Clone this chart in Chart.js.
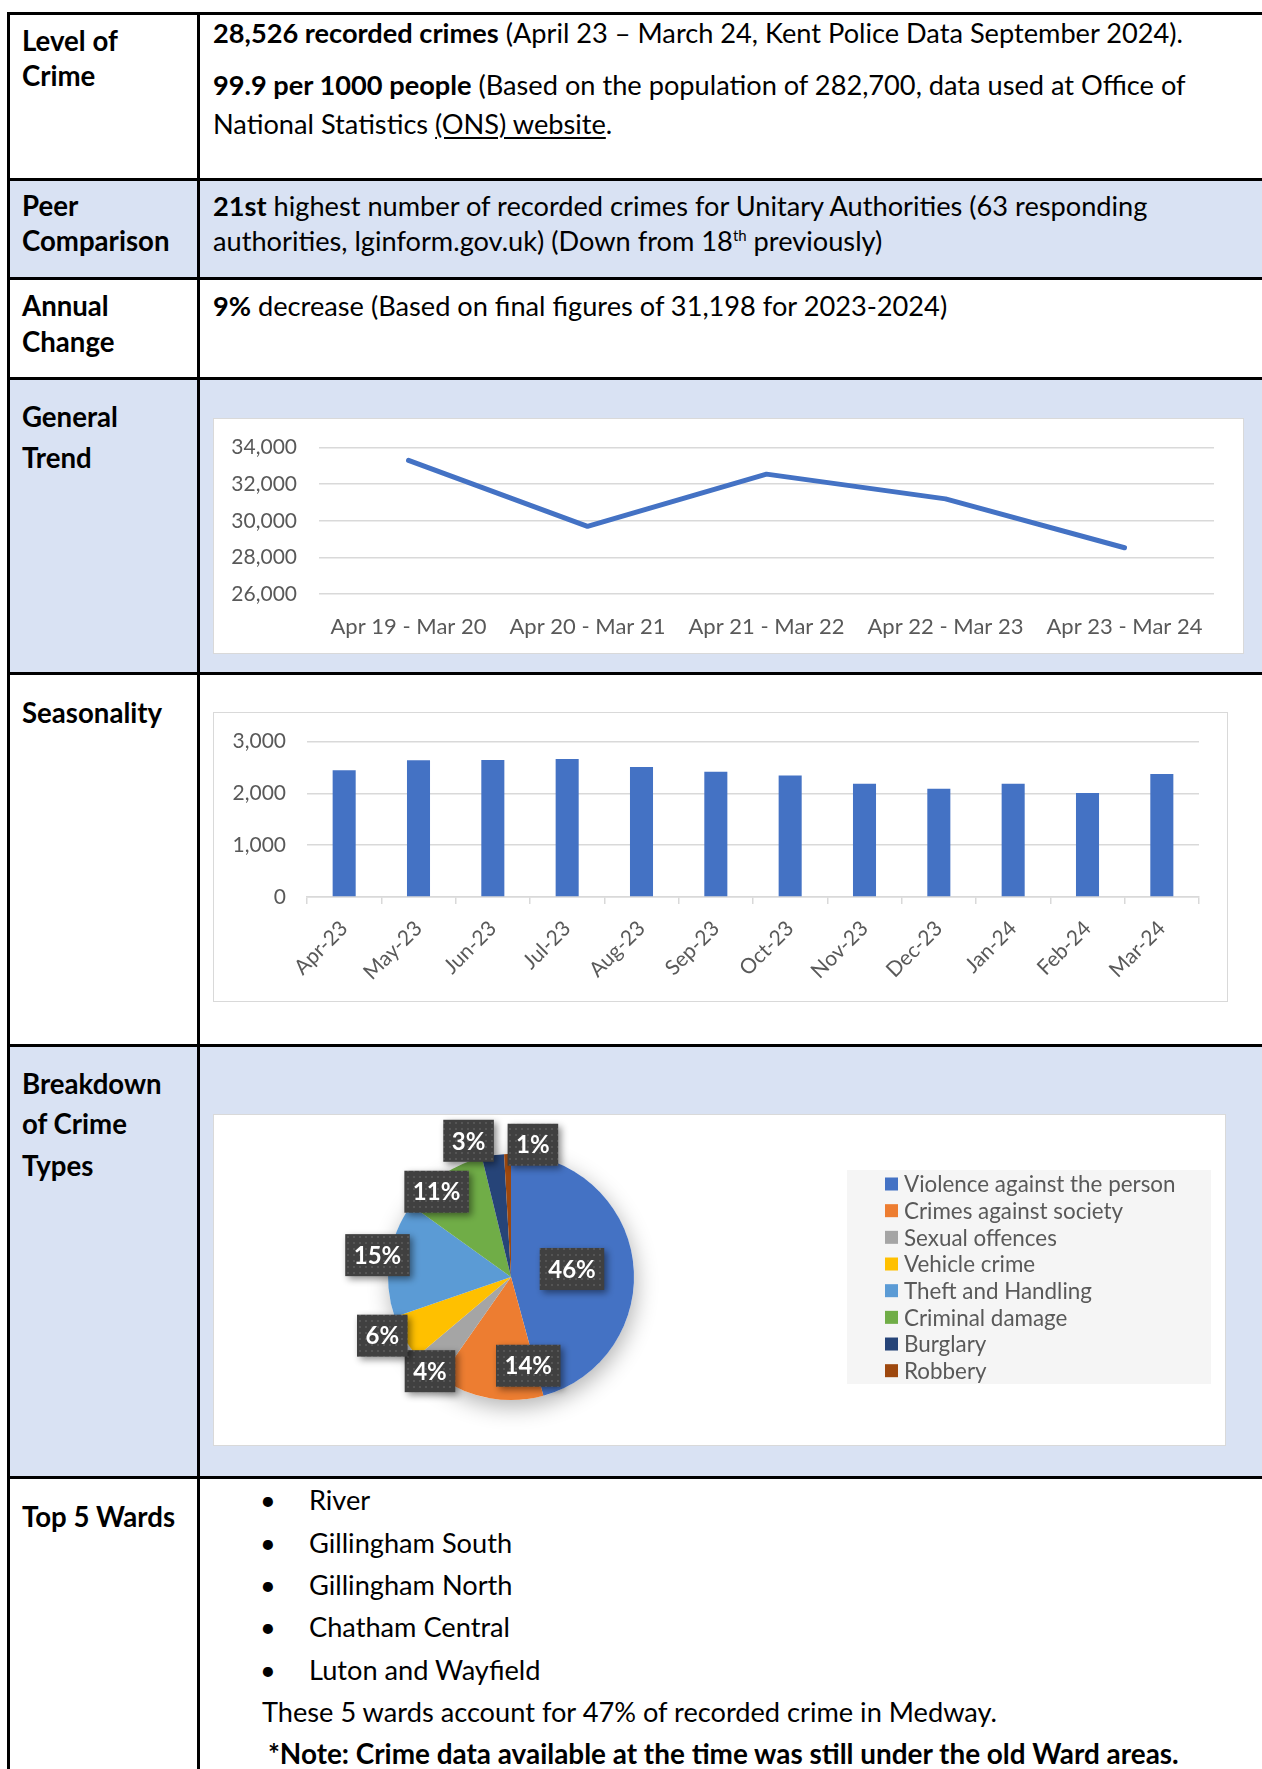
<!DOCTYPE html>
<html>
<head>
<meta charset="utf-8">
<script src="https://cdn.jsdelivr.net/npm/chart.js@4.4.1/dist/chart.umd.min.js"></script>
<style>
  body { margin: 0; width: 1262px; height: 1769px; overflow: hidden; background: #fff; font-family: Lato, 'Open Sans', sans-serif; color: #000; }
  .band { position: absolute; left: 7px; width: 1255px; background: #D9E2F3; }
  .hline { position: absolute; left: 7px; width: 1255px; height: 3px; background: #000; }
  .vline { position: absolute; top: 12px; width: 3px; height: 1757px; background: #000; }
  .t { position: absolute; white-space: nowrap; font-size: 27.2px; line-height: 30px; }
  .lab { position: absolute; left: 22px; white-space: nowrap; font-size: 27.6px; line-height: 30px; font-weight: 700; }
  .box { position: absolute; background: #fff; border: 1.5px solid #D9D9D9; box-sizing: border-box; }
  canvas { position: absolute; }
  u { text-underline-offset: 3px; }
  sup { font-size: 15px; line-height: 0; vertical-align: 10px; }
</style>
</head>
<body>
<div class="band" style="top:178px;height:100px"></div>
<div class="band" style="top:377px;height:296px"></div>
<div class="band" style="top:1044px;height:433px"></div>

<div class="hline" style="top:12px"></div>
<div class="hline" style="top:178px"></div>
<div class="hline" style="top:277px"></div>
<div class="hline" style="top:377px"></div>
<div class="hline" style="top:672px"></div>
<div class="hline" style="top:1044px"></div>
<div class="hline" style="top:1476px"></div>
<div class="vline" style="left:7px"></div>
<div class="vline" style="left:197px"></div>

<div class="lab" style="top:26px">Level of</div>
<div class="lab" style="top:61px">Crime</div>
<div class="lab" style="top:191px">Peer</div>
<div class="lab" style="top:226px">Comparison</div>
<div class="lab" style="top:291px">Annual</div>
<div class="lab" style="top:327px">Change</div>
<div class="lab" style="top:402px">General</div>
<div class="lab" style="top:443px">Trend</div>
<div class="lab" style="top:698px">Seasonality</div>
<div class="lab" style="top:1069px">Breakdown</div>
<div class="lab" style="top:1109px">of Crime</div>
<div class="lab" style="top:1151px">Types</div>
<div class="lab" style="top:1502px">Top 5 Wards</div>

<div class="t" style="left:213px;top:18px"><b>28,526 recorded crimes</b> (April 23 – March 24, Kent Police Data September 2024).</div>
<div class="t" style="left:213px;top:70px"><b>99.9 per 1000 people</b> (Based on the population of 282,700, data used at Office of</div>
<div class="t" style="left:213px;top:109px">National Statistics <u>(ONS) website</u>.</div>
<div class="t" style="left:213px;top:191px"><b>21st</b> highest number of recorded crimes for Unitary Authorities (63 responding</div>
<div class="t" style="left:213px;top:226px">authorities, lginform.gov.uk) (Down from 18<sup>th</sup> previously)</div>
<div class="t" style="left:213px;top:291px"><b>9%</b> decrease (Based on final figures of 31,198 for 2023-2024)</div>

<div class="t" style="left:260px;top:1485px">•</div><div class="t" style="left:309px;top:1485px">River</div>
<div class="t" style="left:260px;top:1528px">•</div><div class="t" style="left:309px;top:1528px">Gillingham South</div>
<div class="t" style="left:260px;top:1570px">•</div><div class="t" style="left:309px;top:1570px">Gillingham North</div>
<div class="t" style="left:260px;top:1612px">•</div><div class="t" style="left:309px;top:1612px">Chatham Central</div>
<div class="t" style="left:260px;top:1655px">•</div><div class="t" style="left:309px;top:1655px">Luton and Wayfield</div>
<div class="t" style="left:262px;top:1697px">These 5 wards account for 47% of recorded crime in Medway.</div>
<div class="t" style="left:268px;top:1738px;font-weight:700;font-size:27.9px">*Note: Crime data available at the time was still under the old Ward areas.</div>

<div class="box" style="left:213px;top:418px;width:1031px;height:236px"></div>
<canvas id="trendChart" width="1031" height="241" style="left:213px;top:413px"></canvas>

<div class="box" style="left:213px;top:712px;width:1015px;height:290px"></div>
<canvas id="monthChart" width="1015" height="294" style="left:213px;top:708px"></canvas>

<div class="box" style="left:213px;top:1114px;width:1013px;height:332px"></div>
<canvas id="typeChart" width="1013" height="332" style="left:213px;top:1114px"></canvas>

<script>
// annual totals (General Trend)
const trendYears = ['Apr 19 - Mar 20', 'Apr 20 - Mar 21', 'Apr 21 - Mar 22', 'Apr 22 - Mar 23', 'Apr 23 - Mar 24'];
const trendCrimes = [33300, 29700, 32550, 31198, 28526];
const trendTicks = [26000, 28000, 30000, 32000, 34000];

// monthly totals (Seasonality)
const months = ['Apr-23', 'May-23', 'Jun-23', 'Jul-23', 'Aug-23', 'Sep-23', 'Oct-23', 'Nov-23', 'Dec-23', 'Jan-24', 'Feb-24', 'Mar-24'];
const monthCrimes = [2445, 2640, 2645, 2665, 2510, 2420, 2345, 2185, 2090, 2185, 2010, 2375];
const monthTicks = [0, 1000, 2000, 3000];

// breakdown of crime types (% share)
const crimeTypes = ['Violence against the person', 'Crimes against society', 'Sexual offences', 'Vehicle crime', 'Theft and Handling', 'Criminal damage', 'Burglary', 'Robbery'];
const crimeShares = [45.8, 14.0, 4.1, 5.9, 15.2, 11.3, 2.9, 0.9];
const crimeColours = ['#4472C4', '#ED7D31', '#A5A5A5', '#FFC000', '#5B9BD5', '#70AD47', '#264478', '#9E480E'];

const GRID = '#D9D9D9';
const TEXT = '#595959';
Chart.defaults.font.family = 'Lato, "Open Sans", sans-serif';
Chart.defaults.color = TEXT;
Chart.defaults.animation = false;

const fmt = v => Number(v).toLocaleString('en-GB');

new Chart(document.getElementById('trendChart'), {
    type: 'line',
    data: {
        labels: trendYears,
        datasets: [{
            data: trendCrimes,
            borderColor: '#4472C4',
            borderWidth: 5,
            borderCapStyle: 'round',
            borderJoinStyle: 'round',
            pointRadius: 0,
            tension: 0,
            fill: false
        }]
    },
    options: {
        responsive: false,
        layout: { padding: { top: 26, right: 30, left: 0, bottom: 0 } },
        plugins: { legend: { display: false }, tooltip: { enabled: false } },
        scales: {
            x: {
                offset: true,
                grid: { display: false, drawTicks: false },
                border: { display: false },
                ticks: { padding: 20, font: { size: 22 } },
                afterFit: s => { s.height = 60; }
            },
            y: {
                min: trendTicks[0],
                max: trendTicks[trendTicks.length - 1],
                afterBuildTicks: s => { s.ticks = trendTicks.map(v => ({ value: v })); },
                grid: { color: GRID, lineWidth: 1.5, drawTicks: false },
                border: { display: false },
                ticks: { padding: 22, font: { size: 21 }, callback: fmt },
                afterFit: s => { s.width = 106; }
            }
        }
    }
});

new Chart(document.getElementById('monthChart'), {
    type: 'bar',
    data: {
        labels: months,
        datasets: [{
            data: monthCrimes,
            backgroundColor: '#4472C4',
            barPercentage: 0.31,
            categoryPercentage: 1
        }]
    },
    options: {
        responsive: false,
        layout: { padding: { top: 26, right: 29, left: 0, bottom: 0 } },
        plugins: { legend: { display: false }, tooltip: { enabled: false } },
        scales: {
            x: {
                grid: { display: true, drawOnChartArea: false, drawTicks: true, tickLength: 7, color: GRID, lineWidth: 1.5, offset: true },
                border: { color: GRID, width: 1.5 },
                ticks: { minRotation: 45, maxRotation: 45, autoSkip: false, padding: 12, font: { size: 21 } },
                afterFit: s => { s.height = 105; }
            },
            y: {
                min: monthTicks[0],
                max: monthTicks[monthTicks.length - 1],
                afterBuildTicks: s => { s.ticks = monthTicks.map(v => ({ value: v })); },
                grid: { color: GRID, lineWidth: 1.5, drawTicks: false },
                border: { display: false },
                ticks: { padding: 21, font: { size: 21 }, callback: fmt },
                afterFit: s => { s.width = 94; }
            }
        }
    }
});

// where Excel's "best fit" put each percentage box: [degrees clockwise from 12 o'clock, fraction of radius]
const labelSpots = [[82.5, 0.5], [169, 0.735], [220.7, 1.01], [245.5, 1.15], [279.3, 1.10], [318.9, 0.92], [342.7, 1.16], [9.4, 1.09]];

function dotPattern(ctx) {
    const c = document.createElement('canvas');
    c.width = 6; c.height = 6;
    const p = c.getContext('2d');
    p.fillStyle = '#404040';
    p.fillRect(0, 0, 6, 6);
    p.fillStyle = '#555555';
    p.fillRect(2, 2, 2, 2);
    return ctx.createPattern(c, 'repeat');
}

const pieShadow = {
    id: 'pieShadow',
    beforeDatasetsDraw(chart) {
        const arc = chart.getDatasetMeta(0).data[0];
        if (!arc) return;
        const ctx = chart.ctx;
        ctx.save();
        ctx.shadowColor = 'rgba(0,0,0,0.3)';
        ctx.shadowBlur = 22;
        ctx.shadowOffsetX = 2;
        ctx.shadowOffsetY = 7;
        ctx.fillStyle = '#fff';
        ctx.beginPath();
        ctx.arc(arc.x, arc.y, arc.outerRadius, 0, Math.PI * 2);
        ctx.fill();
        ctx.restore();
    }
};

const pieLabels = {
    id: 'pieLabels',
    afterDatasetsDraw(chart) {
        const ctx = chart.ctx;
        const data = chart.data.datasets[0].data;
        const total = data.reduce((a, b) => a + b, 0);
        const pattern = dotPattern(ctx);
        chart.getDatasetMeta(0).data.forEach((arc, i) => {
            const spot = labelSpots[i];
            const a = spot[0] * Math.PI / 180;
            const cx = arc.x + Math.sin(a) * arc.outerRadius * spot[1];
            const cy = arc.y - Math.cos(a) * arc.outerRadius * spot[1];
            const text = Math.round(data[i] / total * 100) + '%';
            ctx.save();
            ctx.font = 'bold 24px Lato, "Open Sans", sans-serif';
            const w = ctx.measureText(text).width + 17;
            const h = 42;
            ctx.shadowColor = 'rgba(0,0,0,0.45)';
            ctx.shadowBlur = 7;
            ctx.shadowOffsetX = 3;
            ctx.shadowOffsetY = 3;
            ctx.fillStyle = pattern;
            ctx.fillRect(cx - w / 2, cy - h / 2, w, h);
            ctx.shadowColor = 'transparent';
            ctx.fillStyle = '#fff';
            ctx.textAlign = 'center';
            ctx.textBaseline = 'middle';
            ctx.fillText(text, cx, cy + 1);
            ctx.restore();
        });
    }
};

const sideLegend = {
    id: 'sideLegend',
    afterDraw(chart) {
        const ctx = chart.ctx;
        const labels = chart.data.labels;
        const colours = chart.data.datasets[0].backgroundColor;
        ctx.save();
        ctx.fillStyle = '#F5F5F5';
        ctx.fillRect(634, 56, 364, 214);
        ctx.font = '22.4px Lato, "Open Sans", sans-serif';
        ctx.textBaseline = 'middle';
        labels.forEach((lab, i) => {
            const y = 70 + i * 26.67;
            ctx.fillStyle = colours[i];
            ctx.fillRect(672, y - 6.5, 13, 13);
            ctx.fillStyle = TEXT;
            ctx.fillText(lab, 691, y + 1);
        });
        ctx.restore();
    }
};

new Chart(document.getElementById('typeChart'), {
    type: 'pie',
    data: {
        labels: crimeTypes,
        datasets: [{
            data: crimeShares,
            backgroundColor: crimeColours,
            borderWidth: 0
        }]
    },
    options: {
        responsive: false,
        layout: { padding: { top: 40, bottom: 46, left: 0, right: 417 } },
        plugins: { legend: { display: false }, tooltip: { enabled: false } }
    },
    plugins: [pieShadow, pieLabels, sideLegend]
});
</script>
</body>
</html>
